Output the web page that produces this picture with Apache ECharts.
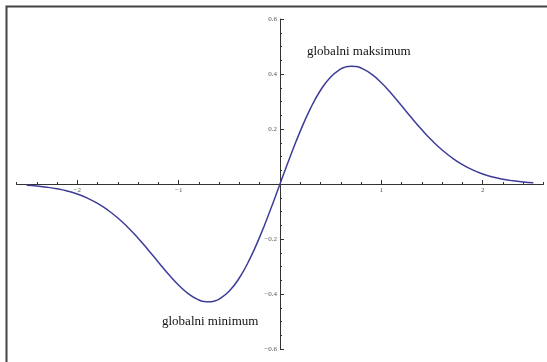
<!DOCTYPE html>
<html>
<head>
<meta charset="utf-8">
<script src="https://cdn.jsdelivr.net/npm/echarts@6/dist/echarts.min.js"></script>
<style>
  html, body { margin: 0; padding: 0; background: #fff; }
  #chart { width: 547px; height: 362px; }
</style>
</head>
<body>
<div id="chart"></div>
<script>
// Sample points of the curve (x, y)
const xValues = [
  -2.5, -2.4, -2.3, -2.2, -2.1, -2.0, -1.9, -1.8, -1.7, -1.6,
  -1.5, -1.4, -1.3, -1.2, -1.1, -1.0, -0.9, -0.8, -0.75, -0.7, -0.65, -0.6,
  -0.5, -0.4, -0.3, -0.2, -0.1, 0.0, 0.1, 0.2, 0.3, 0.4,
  0.5, 0.6, 0.65, 0.7, 0.75, 0.8, 0.9, 1.0, 1.1, 1.2, 1.3, 1.4,
  1.5, 1.6, 1.7, 1.8, 1.9, 2.0, 2.1, 2.2, 2.3, 2.4, 2.5
];
const yValues = [
  -0.0048, -0.0076, -0.0116, -0.0174, -0.0255, -0.0366, -0.0514, -0.0704, -0.0945, -0.1237,
  -0.1581, -0.1971, -0.2397, -0.2843, -0.3285, -0.3679, -0.4003, -0.4218, -0.4273, -0.4286, -0.4260, -0.4186,
  -0.3894, -0.3409, -0.2742, -0.1922, -0.0990, 0.0, 0.0990, 0.1922, 0.2742, 0.3409,
  0.3894, 0.4186, 0.4260, 0.4286, 0.4273, 0.4218, 0.4003, 0.3679, 0.3285, 0.2843, 0.2397, 0.1971,
  0.1581, 0.1237, 0.0945, 0.0704, 0.0514, 0.0366, 0.0255, 0.0174, 0.0116, 0.0076, 0.0048
];
const xTicks = [-2, -1, 1, 2];
const yTicks = [-0.6, -0.4, -0.2, 0.2, 0.4, 0.6];
const annotations = ['globalni maksimum', 'globalni minimum'];

const X_MIN = -2.6, X_MAX = 2.6, Y_MIN = -0.6, Y_MAX = 0.6;
const W = 547, H = 362;
const G = { left: 16.5, right: 3.5, top: 19, bottom: 13 };
// Shift the axes so they cross at the origin
const plotW = W - G.left - G.right, plotH = H - G.top - G.bottom;
const zeroFromBottom = plotH * (0 - Y_MIN) / (Y_MAX - Y_MIN);
const zeroFromLeft = plotW * (0 - X_MIN) / (X_MAX - X_MIN);

const fmt = v => (v < 0 ? '\u2212' : '') + String(Math.abs(Math.round(v * 10) / 10));
const tickColor = '#333';

const chart = echarts.init(document.getElementById('chart'), null, { renderer: 'canvas' });
chart.setOption({
  animation: false,
  backgroundColor: '#ffffff',
  grid: Object.assign({ containLabel: false }, G),
  xAxis: [{
    // main axis: line, minor ticks and labels
    type: 'value', min: X_MIN, max: X_MAX, interval: 0.2,
    position: 'bottom', offset: -zeroFromBottom,
    axisLine: { onZero: false, lineStyle: { color: tickColor, width: 1 } },
    axisTick: { show: true, inside: true, length: 2, lineStyle: { color: tickColor } },
    splitLine: { show: false },
    axisLabel: {
      customValues: xTicks,
      formatter: fmt, color: '#555', fontSize: 7, fontFamily: 'Liberation Serif', margin: 3
    }
  }, {
    // longer major ticks
    type: 'value', min: X_MIN, max: X_MAX,
    position: 'top', offset: -(plotH - zeroFromBottom),
    axisLine: { show: false, onZero: false },
    axisTick: { show: true, inside: false, length: 4, customValues: xTicks,
      lineStyle: { color: tickColor } },
    splitLine: { show: false },
    axisLabel: { show: false }
  }],
  yAxis: [{
    type: 'value', min: Y_MIN, max: Y_MAX, interval: 0.05,
    position: 'left', offset: -zeroFromLeft,
    axisLine: { onZero: false, lineStyle: { color: tickColor, width: 1 } },
    axisTick: { show: true, inside: true, length: 2, lineStyle: { color: tickColor } },
    splitLine: { show: false },
    axisLabel: {
      customValues: yTicks,
      formatter: fmt, color: '#555', fontSize: 7,
      fontFamily: 'Liberation Serif', margin: 3
    }
  }, {
    type: 'value', min: Y_MIN, max: Y_MAX,
    position: 'right', offset: -(plotW - zeroFromLeft),
    axisLine: { show: false, onZero: false },
    axisTick: { show: true, inside: false, length: 4, customValues: yTicks,
      lineStyle: { color: tickColor } },
    splitLine: { show: false },
    axisLabel: { show: false }
  }],
  series: [{
    type: 'line',
    xAxisIndex: 0, yAxisIndex: 0,
    data: xValues.map((x, i) => [x, yValues[i]]),
    smooth: true,
    showSymbol: false,
    lineStyle: { color: '#3d3d99', width: 1.5 },
    z: 3
  }],
  graphic: [
    {
      type: 'polyline', silent: true,
      shape: { points: [[6.5, 362], [6.5, 6.5], [547, 6.5]] },
      style: { stroke: '#444', lineWidth: 2, fill: null }
    },
    {
      type: 'text', left: 307, top: 45,
      style: { text: annotations[0], font: '13px "Liberation Serif"', fill: '#111' }
    },
    {
      type: 'text', left: 162, top: 315,
      style: { text: annotations[1], font: '13px "Liberation Serif"', fill: '#111' }
    }
  ]
});
</script>
</body>
</html>
